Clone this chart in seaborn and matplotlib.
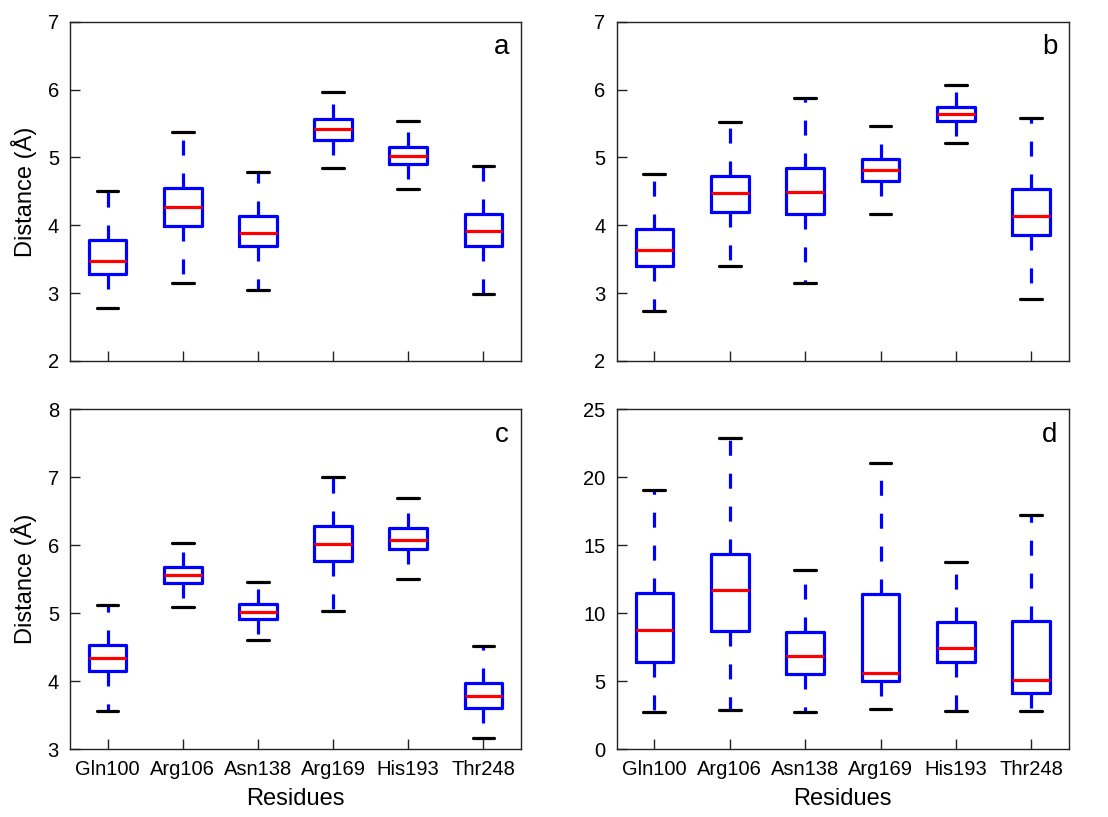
import numpy as np
import pandas as pd
import matplotlib
matplotlib.use("Agg")
import matplotlib.pyplot as plt
import seaborn as sns

residues = ["Gln100", "Arg106", "Asn138", "Arg169", "His193", "Thr248"]

# Five-number summaries per residue: [min, q1, median, q3, max]
panel_a = [
    [2.78, 3.28, 3.48, 3.78, 4.51],
    [3.15, 3.99, 4.27, 4.55, 5.38],
    [3.04, 3.69, 3.89, 4.13, 4.79],
    [4.84, 5.26, 5.42, 5.56, 5.96],
    [4.53, 4.91, 5.02, 5.16, 5.53],
    [2.99, 3.69, 3.92, 4.17, 4.88],
]
panel_b = [
    [2.73, 3.40, 3.64, 3.94, 4.75],
    [3.40, 4.20, 4.47, 4.73, 5.52],
    [3.15, 4.17, 4.49, 4.84, 5.87],
    [4.17, 4.65, 4.82, 4.97, 5.46],
    [5.21, 5.53, 5.64, 5.75, 6.07],
    [2.92, 3.85, 4.13, 4.54, 5.58],
]
panel_c = [
    [3.56, 4.15, 4.35, 4.54, 5.12],
    [5.09, 5.45, 5.56, 5.68, 6.03],
    [4.61, 4.92, 5.02, 5.14, 5.46],
    [5.04, 5.77, 6.02, 6.28, 7.01],
    [5.50, 5.94, 6.08, 6.25, 6.69],
    [3.16, 3.61, 3.78, 3.98, 4.52],
]
panel_d = [
    [2.77, 6.40, 8.75, 11.52, 19.09],
    [2.89, 8.70, 11.69, 14.39, 22.87],
    [2.77, 5.56, 6.84, 8.63, 13.16],
    [2.99, 5.02, 5.59, 11.45, 21.03],
    [2.79, 6.42, 7.45, 9.39, 13.77],
    [2.84, 4.17, 5.10, 9.44, 17.25],
]

panel_letters = ["a", "b", "c", "d"]
ylims = [(2, 7), (2, 7), (3, 8), (0, 25)]
yticks = [np.arange(2, 8), np.arange(2, 8), np.arange(3, 9), np.arange(0, 26, 5)]

sns.set_style("ticks")
plt.rcParams["font.family"] = ["Liberation Sans", "DejaVu Sans"]
plt.rcParams["text.color"] = "black"
plt.rcParams["axes.labelcolor"] = "black"

fig = plt.figure(figsize=(11.08, 8.17), dpi=100)
W, H = 1108, 817
positions = [
    (70, 21.7, 521, 361),
    (616.7, 21.7, 1069, 361),
    (70, 409.3, 521, 749.3),
    (616.7, 409.3, 1069, 749.3),
]

for i, (panel, letter) in enumerate(zip([panel_a, panel_b, panel_c, panel_d], panel_letters)):
    l, t, r, b = positions[i]
    ax = fig.add_axes([l / W, 1 - b / H, (r - l) / W, (b - t) / H])
    rows = []
    for res, vals in zip(residues, panel):
        for v in vals:
            rows.append({"Residue": res, "Distance": v})
    df = pd.DataFrame(rows)
    sns.boxplot(
        data=df, x="Residue", y="Distance", order=residues, ax=ax,
        whis=(0, 100), width=0.5, fill=False, showfliers=False,
        boxprops=dict(color="#0000ff", linewidth=2.3),
        medianprops=dict(color="#ff0000", linewidth=2.3),
        whiskerprops=dict(color="#0000ff", linewidth=2.3, linestyle=(0, (4.7, 5.6))),
        capprops=dict(color="black", linewidth=2.3),
        capwidths=0.29,
    )
    ax.set_xlim(-0.5, 5.5)
    ax.set_ylim(*ylims[i])
    ax.set_yticks(yticks[i])
    for s in ax.spines.values():
        s.set_visible(True)
        s.set_color("#222222")
        s.set_linewidth(1.0)
    ax.tick_params(direction="in", length=7, width=1, colors="#222222",
                   labelsize=14.5, labelcolor="black", top=False, right=False)
    ax.tick_params(axis="x", pad=8)
    ax.tick_params(axis="y", pad=8)
    if i < 2:
        ax.set_xticklabels([])
        ax.set_xlabel("")
    else:
        ax.set_xlabel("Residues", fontsize=17, labelpad=6, color="black")
    if i % 2 == 0:
        ax.set_ylabel("Distance (Å)", fontsize=17, labelpad=8, color="black")
    else:
        ax.set_ylabel("")
    ax.text(0.958, 0.925, letter, transform=ax.transAxes, fontsize=20,
            ha="center", va="center", color="black")

fig.savefig("out.png", dpi=100)
